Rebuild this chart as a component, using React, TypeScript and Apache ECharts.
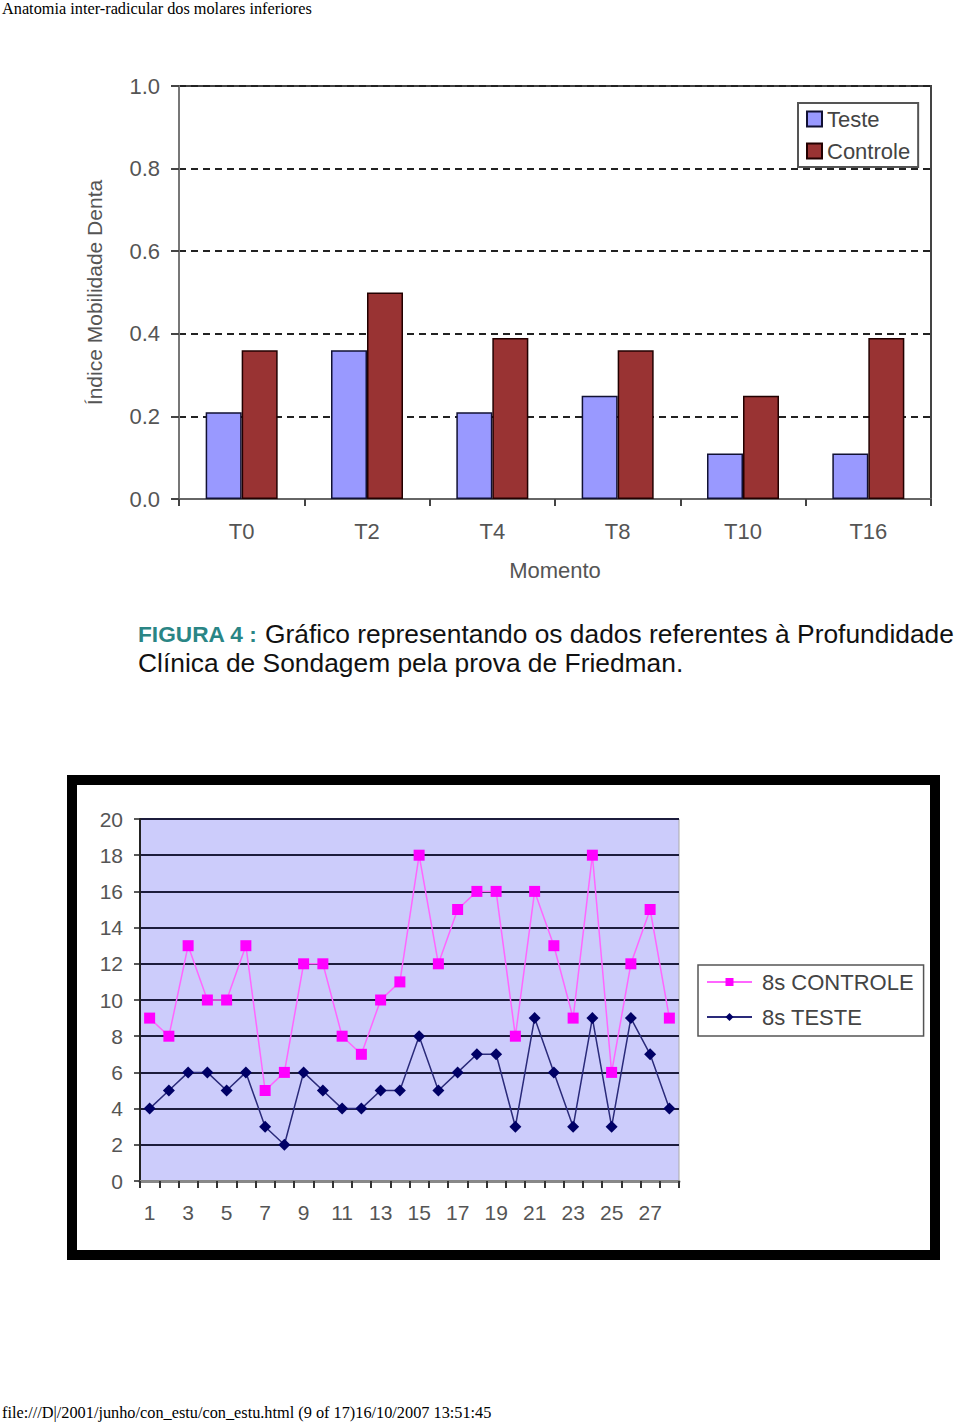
import React, { useEffect, useRef } from "react";
import * as echarts from "echarts";

const momentos = ["T0", "T2", "T4", "T8", "T10", "T16"];
const teste = [0.21, 0.36, 0.21, 0.25, 0.11, 0.11];
const controle = [0.36, 0.5, 0.39, 0.36, 0.25, 0.39];

const sessoes = Array.from({ length: 28 }, (_, i) => String(i + 1));
const controle8s = [9, 8, 13, 10, 10, 13, 5, 6, 12, 12, 8, 7, 10, 11, 18, 12, 15, 16, 16, 8, 16, 13, 9, 18, 6, 12, 15, 9];
const teste8s = [4, 5, 6, 6, 5, 6, 3, 2, 6, 5, 4, 4, 5, 5, 8, 5, 6, 7, 7, 3, 9, 6, 3, 9, 3, 9, 7, 4];

const FONT = "Liberation Sans, Arial, sans-serif";
const SERIF = "Liberation Serif, Times New Roman, serif";

export default function App() {
  const ref = useRef<HTMLDivElement>(null);
  useEffect(() => {
    if (!ref.current) return;
    const chart = echarts.init(ref.current, null, { renderer: "svg" });
    chart.setOption({
      animation: false,
      backgroundColor: "#ffffff",
      graphic: [
        {
          type: "rect",
          z: -10,
          shape: { x: 72, y: 780, width: 863, height: 475 },
          style: { fill: "#ffffff", stroke: "#000000", lineWidth: 10 },
        },
        {
          type: "text",
          x: 2,
          y: 0,
          style: { text: "Anatomia inter-radicular dos molares inferiores", font: `16.3px ${SERIF}`, fill: "#000" },
        },
        {
          type: "text",
          x: 2,
          y: 1404,
          style: {
            text: "file:///D|/2001/junho/con_estu/con_estu.html (9 of 17)16/10/2007 13:51:45",
            font: `16.3px ${SERIF}`,
            fill: "#000",
          },
        },
        {
          type: "text",
          x: 138,
          y: 620,
          scaleX: 1.055,
          style: {
            text: "{a|FIGURA 4 :} Gráfico representando os dados referentes à Profundidade\nClínica de Sondagem pela prova de Friedman.",
            font: `25px ${FONT}`,
            fill: "#111",
            lineHeight: 29,
            rich: {
              a: { fontSize: 21.5, fontWeight: "bold", fill: "#2a8585", fontFamily: FONT },
            },
          },
        },
      ],
      legend: [
        {
          left: 798,
          top: 103,
          orient: "vertical",
          data: ["Teste", "Controle"],
          itemWidth: 15,
          itemHeight: 15,
          itemGap: 10,
          padding: [5, 8, 5, 8],
          borderColor: "#555",
          borderWidth: 2,
          backgroundColor: "#fff",
          textStyle: { fontFamily: FONT, fontSize: 22, color: "#444", padding: [0, 0, 0, 0] },
          icon: "rect",
        },
        {
          left: 698,
          top: 965,
          orient: "vertical",
          data: ["8s CONTROLE", "8s TESTE"],
          itemWidth: 45,
          itemHeight: 10,
          itemGap: 13,
          padding: [6, 10, 8, 8],
          borderColor: "#555",
          borderWidth: 1.5,
          backgroundColor: "#fff",
          textStyle: { fontFamily: FONT, fontSize: 22, color: "#444", padding: [0, 0, 0, 5] },
        },
      ],
      grid: [
        {
          left: 179,
          top: 86,
          width: 752,
          height: 413,
          show: true,
          borderColor: "#444",
          borderWidth: 2,
          backgroundColor: "#fff",
        },
        {
          left: 140,
          top: 819,
          width: 539,
          height: 362,
          show: true,
          borderColor: "#aaa",
          borderWidth: 1,
          backgroundColor: "#ccccfb",
        },
      ],
      xAxis: [
        {
          type: "category",
          gridIndex: 0,
          data: momentos,
          axisLine: { lineStyle: { color: "#666", width: 2 } },
          axisTick: { show: true, length: 7, lineStyle: { color: "#444", width: 2 } },
          axisLabel: { fontFamily: FONT, fontSize: 22, color: "#555", margin: 21 },
          name: "Momento",
          nameLocation: "middle",
          nameGap: 60,
          nameTextStyle: { fontFamily: FONT, fontSize: 22, color: "#555" },
        },
        {
          type: "category",
          gridIndex: 1,
          data: sessoes,
          boundaryGap: true,
          axisLine: { lineStyle: { color: "#888", width: 3 } },
          axisTick: { show: true, interval: 0, length: 7, lineStyle: { color: "#333", width: 2 } },
          axisLabel: { interval: 1, fontFamily: FONT, fontSize: 21, color: "#555", margin: 21 },
        },
      ],
      yAxis: [
        {
          type: "value",
          gridIndex: 0,
          min: 0,
          max: 1,
          interval: 0.2,
          axisLine: { show: true, lineStyle: { color: "#777", width: 2 } },
          axisTick: { show: true, length: 8, lineStyle: { color: "#444", width: 2 } },
          axisLabel: {
            fontFamily: FONT,
            fontSize: 22,
            color: "#555",
            margin: 19,
            formatter: (v: number) => v.toFixed(1),
          },
          splitLine: { show: true, lineStyle: { color: "#222", width: 2, type: [7, 5] } },
          name: "Índice Mobilidade Denta",
          nameLocation: "middle",
          nameGap: 74,
          nameTextStyle: { fontFamily: FONT, fontSize: 21, color: "#555" },
        },
        {
          type: "value",
          gridIndex: 1,
          min: 0,
          max: 20,
          interval: 2,
          axisLine: { show: true, lineStyle: { color: "#222", width: 2 } },
          axisTick: { show: true, length: 6, lineStyle: { color: "#222", width: 1.5 } },
          axisLabel: { fontFamily: FONT, fontSize: 21, color: "#555", margin: 17 },
          splitLine: { show: true, lineStyle: { color: "#1c1c3c", width: 2 } },
        },
      ],
      series: [
        {
          name: "Teste",
          type: "bar",
          xAxisIndex: 0,
          yAxisIndex: 0,
          data: teste,
          barWidth: 36,
          barGap: "0%",
          itemStyle: { color: "#9999ff", borderColor: "#111133", borderWidth: 1.5 },
        },
        {
          name: "Controle",
          type: "bar",
          xAxisIndex: 0,
          yAxisIndex: 0,
          data: controle,
          barWidth: 36,
          barGap: "0%",
          itemStyle: { color: "#993333", borderColor: "#220000", borderWidth: 1.5 },
        },
        {
          name: "8s CONTROLE",
          type: "line",
          xAxisIndex: 1,
          yAxisIndex: 1,
          data: controle8s,
          symbol: "rect",
          symbolSize: 11,
          itemStyle: { color: "#ff00ff" },
          lineStyle: { color: "#ff66ff", width: 1.5 },
          z: 3,
        },
        {
          name: "8s TESTE",
          type: "line",
          xAxisIndex: 1,
          yAxisIndex: 1,
          data: teste8s,
          symbol: "diamond",
          symbolSize: 12,
          itemStyle: { color: "#000066" },
          lineStyle: { color: "#2a2a7a", width: 1.5 },
          z: 3,
        },
      ],
    });
    return () => chart.dispose();
  }, []);
  return (
    <div
      ref={ref}
      style={{ position: "absolute", left: 0, top: 0, width: 960, height: 1424 }}
    />
  );
}
